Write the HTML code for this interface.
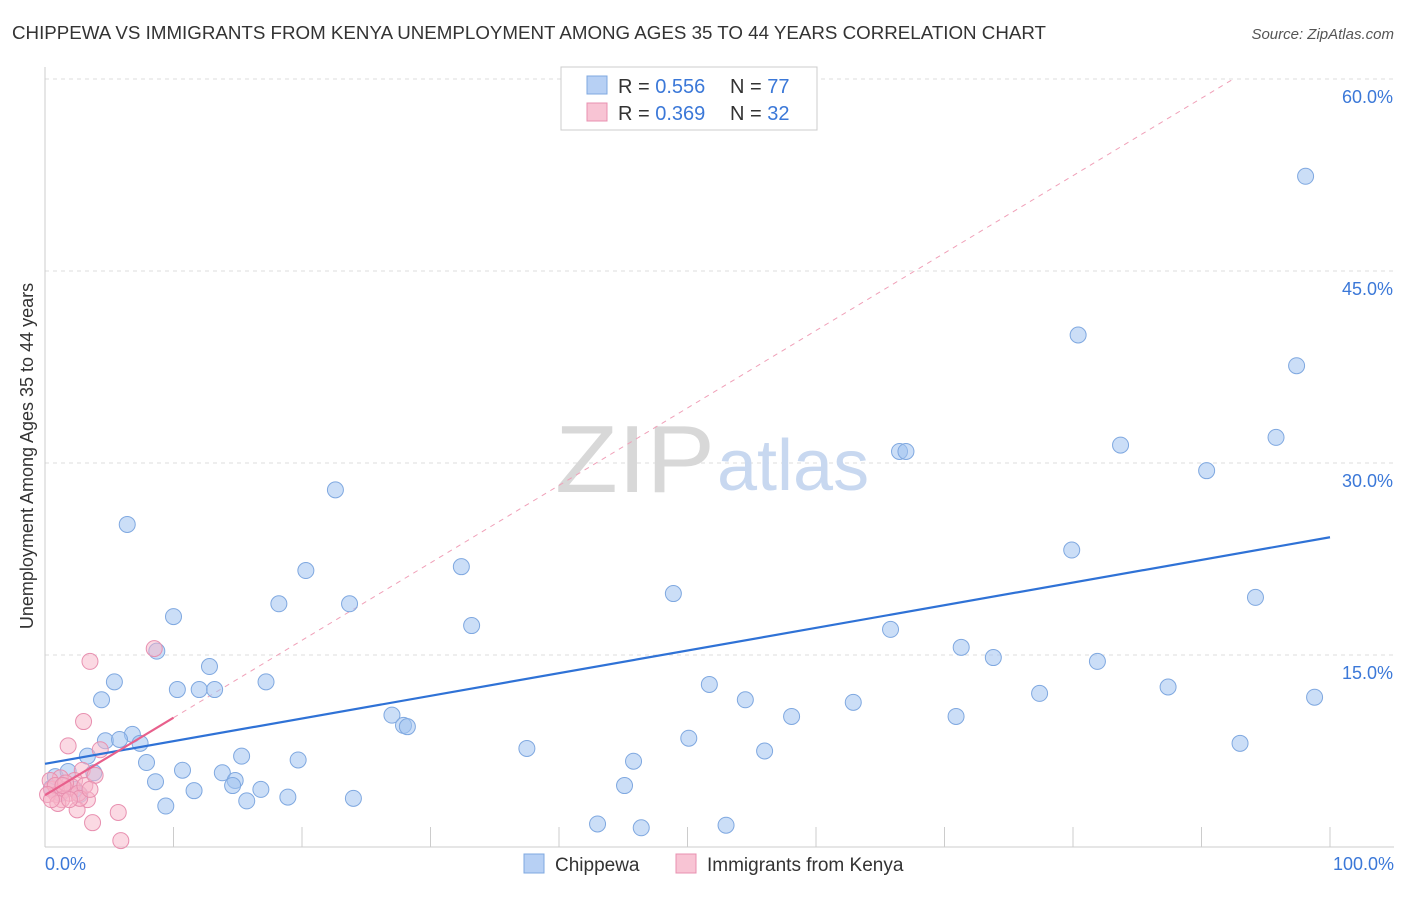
<!DOCTYPE html>
<html><head><meta charset="utf-8">
<style>
body{margin:0;background:#fff;font-family:"Liberation Sans",sans-serif;}
svg text{font-family:"Liberation Sans",sans-serif;}
</style></head>
<body>
<svg id="chart" width="1406" height="892" xmlns="http://www.w3.org/2000/svg">
<text x="12" y="39" font-size="18" fill="#333" textLength="1034" lengthAdjust="spacingAndGlyphs">CHIPPEWA VS IMMIGRANTS FROM KENYA UNEMPLOYMENT AMONG AGES 35 TO 44 YEARS CORRELATION CHART</text>
<text x="1394" y="39" font-size="15" fill="#555" font-style="italic" text-anchor="end">Source: ZipAtlas.com</text>
<text x="33" y="456" font-size="18" fill="#333" text-anchor="middle" transform="rotate(-90 33 456)">Unemployment Among Ages 35 to 44 years</text>
<g id="grid"></g>
<text x="555" y="492" font-size="96" fill="#d8d8d8" font-family="Liberation Serif" textLength="160" lengthAdjust="spacingAndGlyphs">ZIP</text>
<text x="717" y="490" font-size="72" fill="#c8d8f0">atlas</text>
<g id="marks"></g>
<g>
<rect x="561" y="67" width="256" height="63" fill="#fff" stroke="#ccc"/>
<rect x="587" y="76" width="20" height="18" fill="#b7d0f4" stroke="#7fa8e0"/>
<text x="618" y="93" font-size="20" fill="#333">R = <tspan fill="#3b78d8">0.556</tspan></text>
<text x="730" y="93" font-size="20" fill="#333">N = <tspan fill="#3b78d8">77</tspan></text>
<rect x="587" y="103" width="20" height="18" fill="#f8c4d4" stroke="#e890b0"/>
<text x="618" y="120" font-size="20" fill="#333">R = <tspan fill="#3b78d8">0.369</tspan></text>
<text x="730" y="120" font-size="20" fill="#333">N = <tspan fill="#3b78d8">32</tspan></text>
</g>
<g>
<rect x="524" y="854" width="20" height="19" fill="#b7d0f4" stroke="#7fa8e0"/>
<text x="555" y="871" font-size="19" fill="#333">Chippewa</text>
<rect x="676" y="854" width="20" height="19" fill="#f8c4d4" stroke="#e890b0"/>
<text x="707" y="871" font-size="19" fill="#333">Immigrants from Kenya</text>
</g>
</svg>
<script>
const yTicks=[15,30,45,60];
const yTickLabels=["15.0%","30.0%","45.0%","60.0%"];
const xTicks=[0,10,20,30,40,50,60,70,80,90,100];
const xEndLabels=["0.0%","100.0%"];
const chippewaX=[98.1,80.4,97.4,95.8,83.7,66.5,67.0,90.4,22.6,6.4,79.9,20.3,32.4,48.9,94.2,18.2,23.7,10.0,33.2,65.8,71.3,8.7,73.8,81.9,12.8,5.4,17.2,10.3,12.0,13.2,51.7,77.4,87.4,4.4,54.5,62.9,98.8,27.0,58.1,70.9,27.9,28.2,6.8,4.7,5.8,7.4,50.1,93.0,37.5,56.0,15.3,19.7,45.8,3.3,7.9,10.7,3.8,13.8,14.8,8.6,14.6,16.8,45.1,11.6,18.9,24.0,15.7,9.4,43.0,46.4,53.0,2.7,1.2,0.5,0.8,1.8,2.3];
const chippewaY=[52.4,40.0,37.6,32.0,31.4,30.9,30.9,29.4,27.9,25.2,23.2,21.6,21.9,19.8,19.5,19.0,19.0,18.0,17.3,17.0,15.6,15.3,14.8,14.5,14.1,12.9,12.9,12.3,12.3,12.3,12.7,12.0,12.5,11.5,11.5,11.3,11.7,10.3,10.2,10.2,9.5,9.4,8.8,8.3,8.4,8.1,8.5,8.1,7.7,7.5,7.1,6.8,6.7,7.1,6.6,6.0,5.8,5.8,5.2,5.1,4.8,4.5,4.8,4.4,3.9,3.8,3.6,3.2,1.8,1.5,1.7,4.1,4.2,4.6,5.5,5.9,4.5];
const kenyaX=[3.5,8.5,3.0,1.8,4.3,2.9,2.3,1.2,0.5,0.9,1.6,1.9,3.3,2.5,3.7,5.7,5.9,0.4,0.8,1.3,2.1,2.6,3.1,0.2,1.6,2.7,1.0,3.9,0.5,1.4,1.9,3.5];
const kenyaY=[14.5,15.5,9.8,7.9,7.6,6.0,5.2,5.4,4.5,4.1,4.5,4.2,3.7,2.9,1.9,2.7,0.5,5.2,4.8,3.7,4.7,4.2,4.8,4.1,5.0,3.8,3.4,5.6,3.7,4.8,3.7,4.5];
const chippewaFit=[6.5,24.2];
const kenyaFit=[4.05,0.605];

const NS="http://www.w3.org/2000/svg";
const X=v=>45+v*12.85;
const Y=v=>847-v*12.8;
function mk(tag,attrs,parent){const e=document.createElementNS(NS,tag);for(const k in attrs)e.setAttribute(k,attrs[k]);parent.appendChild(e);return e;}
const grid=document.getElementById('grid');
const marks=document.getElementById('marks');
yTicks.forEach((t,i)=>{
  const l=mk('line',{x1:45,x2:1394,y1:Y(t),y2:Y(t),stroke:'#ddd','stroke-dasharray':'4,4'},grid);
  
  
  const tx=mk('text',{x:1393,y:Y(t)+24,'font-size':18,fill:'#3b78d8','text-anchor':'end'},grid);
  tx.textContent=yTickLabels[i];
  
  
});
const ax=mk('line',{x1:45,x2:45,y1:67,y2:847,stroke:'#ccc'},grid);


const bx=mk('line',{x1:45,x2:1394,y1:847,y2:847,stroke:'#ccc'},grid);


xTicks.forEach(t=>{
  const l=mk('line',{x1:X(t),x2:X(t),y1:827,y2:847,stroke:'#ccc'},grid);
  
  
});
[[0,'start',45],[100,'end',1394]].forEach((d,i)=>{
  const tx=mk('text',{x:d[2],y:870,'font-size':18,fill:'#3b78d8','text-anchor':d[1]},grid);
  tx.textContent=xEndLabels[i];
  
  
});
const xEnd=(60-kenyaFit[0])/kenyaFit[1];
const kd=mk('line',{x1:X(0),y1:Y(kenyaFit[0]),x2:X(xEnd),y2:Y(60),stroke:'#f0a0b8','stroke-dasharray':'5,5','stroke-width':1},marks);


chippewaX.forEach((v,i)=>{
  const c=mk('circle',{cx:X(v),cy:Y(chippewaY[i]),r:8,fill:'rgba(160,195,240,0.55)',stroke:'#7fa8e0','stroke-width':1},marks);
  
  
});
kenyaX.forEach((v,i)=>{
  const c=mk('circle',{cx:X(v),cy:Y(kenyaY[i]),r:8,fill:'rgba(248,180,200,0.5)',stroke:'#e890b0','stroke-width':1},marks);
  
  
});
const bl=mk('line',{x1:X(0),y1:Y(chippewaFit[0]),x2:X(100),y2:Y(chippewaFit[1]),stroke:'#2f72d6','stroke-width':2.2},marks);


const pl=mk('line',{x1:X(0),y1:Y(kenyaFit[0]),x2:X(10),y2:Y(kenyaFit[0]+10*kenyaFit[1]),stroke:'#e8608c','stroke-width':2.2},marks);


</script>
</body></html>
